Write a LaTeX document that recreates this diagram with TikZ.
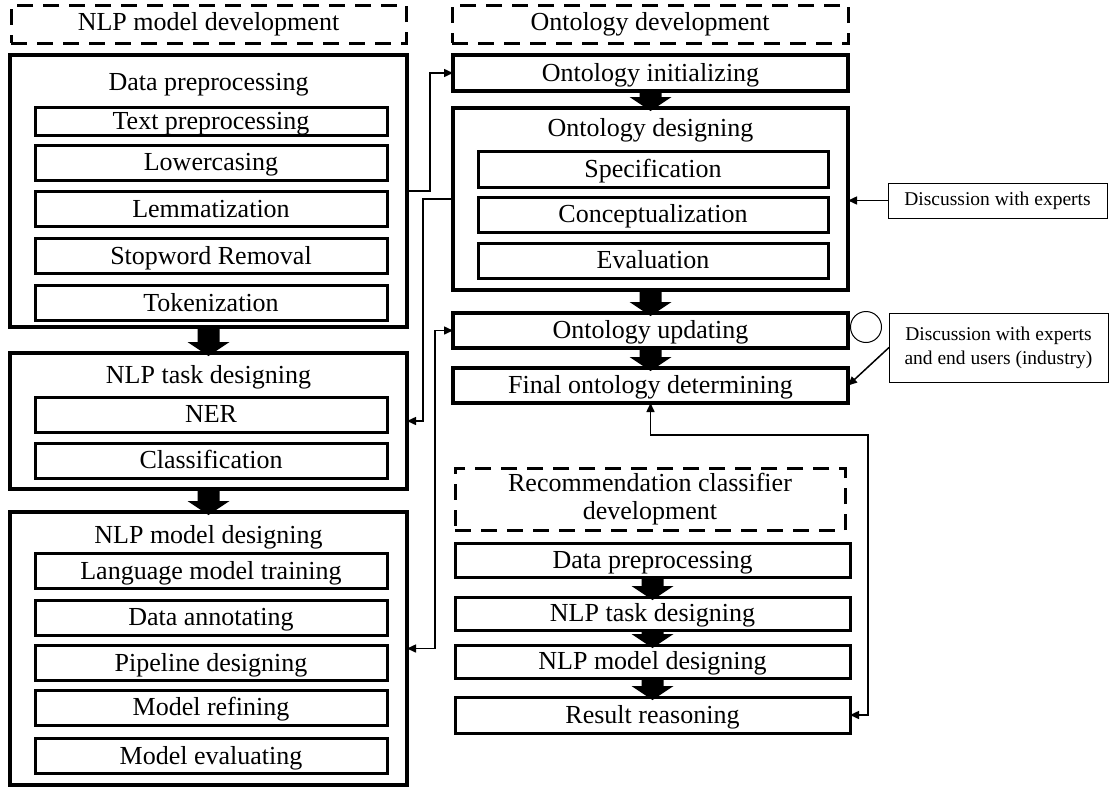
\documentclass[tikz,border=0pt]{standalone}
\usepackage{fontspec}
\setmainfont{Liberation Serif}
\usetikzlibrary{arrows.meta,calc}
\tikzset{
 base/.style={draw, inner sep=0pt, outer sep=0pt, font=\fontsize{26}{28}\selectfont, text height=20pt, text depth=4pt},
 outerbox/.style={base, line width=3.5pt},
 innerbox/.style={base, line width=3pt},
 hdr/.style={draw, inner sep=0pt, outer sep=0pt, font=\fontsize{26}{28}\selectfont, line width=3pt, dash pattern=on 16pt off 10pt, align=center},
 ttl/.style={inner sep=0pt, font=\fontsize{26}{28}\selectfont, text height=20pt, text depth=4pt},
 note/.style={draw, line width=1pt, inner sep=0pt, outer sep=0pt, align=center, font=\fontsize{19.5}{24}\selectfont},
 conn/.style={line width=1.5pt, -{Triangle[length=9pt,width=8pt]}},
 conntwo/.style={line width=1.5pt, {Triangle[length=9pt,width=8pt]}-{Triangle[length=9pt,width=8pt]}},
}
\newcommand\fatarr[2]{\fill let \p1=(#1.south), \p2=(#2.north) in (\x1-11pt,\y1) -- (\x1+11pt,\y1) -- (\x1+11pt,\y2+11pt) -- (\x1+21pt,\y2+11pt) -- (\x1,\y2-3pt) -- (\x1-21pt,\y2+11pt) -- (\x1-11pt,\y2+11pt) -- cycle;}
\begin{document}
\begin{tikzpicture}[x=1pt,y=-1pt]
\useasboundingbox (0,0) rectangle (1110,787);

% Left column
\node[hdr, minimum width=395pt, minimum height=38pt] (hL) at (208.5,24) {NLP model development};
\node[outerbox, minimum width=397pt, minimum height=272pt] (dpO) at (208.5,191) {};
\node[ttl] (dpT) at (208.5,82) {Data preprocessing};
\node[innerbox, minimum width=352pt, minimum height=28pt] (tp) at (211,121) {Text preprocessing};
\node[innerbox, minimum width=352pt, minimum height=35pt] (lc) at (211,162.5) {Lowercasing};
\node[innerbox, minimum width=352pt, minimum height=35pt] (lm) at (211,209) {Lemmatization};
\node[innerbox, minimum width=352pt, minimum height=35pt] (sw) at (211,256) {Stopword Removal};
\node[innerbox, minimum width=352pt, minimum height=35pt] (tk) at (211,303) {Tokenization};

\node[outerbox, minimum width=397pt, minimum height=136pt] (ntO) at (208.5,421) {};
\node[ttl] (ntT) at (208.5,375) {NLP task designing};
\node[innerbox, minimum width=352pt, minimum height=35pt] (ner) at (211,414.5) {NER};
\node[innerbox, minimum width=352pt, minimum height=35pt] (cls) at (211,460.5) {Classification};

\node[outerbox, minimum width=397pt, minimum height=273pt] (nmO) at (208.5,648.5) {};
\node[ttl] (nmT) at (208.5,535) {NLP model designing};
\node[innerbox, minimum width=352pt, minimum height=35pt] (lmt) at (211,571) {Language model training};
\node[innerbox, minimum width=352pt, minimum height=35pt] (da) at (211,617.5) {Data annotating};
\node[innerbox, minimum width=352pt, minimum height=35pt] (pd) at (211,663) {Pipeline designing};
\node[innerbox, minimum width=352pt, minimum height=35pt] (mr) at (211,707.5) {Model refining};
\node[innerbox, minimum width=352pt, minimum height=35pt] (me) at (211,756) {Model evaluating};

% Right column
\node[hdr, minimum width=396pt, minimum height=38pt] (hR) at (650,24) {Ontology development};
\node[outerbox, minimum width=395pt, minimum height=36pt] (oi) at (650.5,73) {Ontology initializing};
\node[outerbox, minimum width=395pt, minimum height=182pt] (odO) at (650.5,199) {};
\node[ttl] (odT) at (650.5,128) {Ontology designing};
\node[innerbox, minimum width=350pt, minimum height=36pt] (spc) at (653,169) {Specification};
\node[innerbox, minimum width=350pt, minimum height=35pt] (cpt) at (653,214.5) {Conceptualization};
\node[innerbox, minimum width=350pt, minimum height=35pt] (evl) at (653,260.5) {Evaluation};
\node[outerbox, minimum width=395pt, minimum height=35pt] (ou) at (650.5,330.5) {Ontology updating};
\node[outerbox, minimum width=395pt, minimum height=35pt] (of) at (650.5,385.5) {Final ontology determining};

\node[hdr, minimum width=390pt, minimum height=62pt] (hRec) at (650,499) {Recommendation classifier\\development};
\node[innerbox, minimum width=395pt, minimum height=34pt] (rdp) at (652.5,560) {Data preprocessing};
\node[innerbox, minimum width=395pt, minimum height=33pt] (rtk) at (652.5,613.5) {NLP task designing};
\node[innerbox, minimum width=395pt, minimum height=33pt] (rmd) at (652.5,661.5) {NLP model designing};
\node[innerbox, minimum width=395pt, minimum height=36pt] (rrs) at (652.5,715) {Result reasoning};

% Notes
\node[note, minimum width=219pt, minimum height=35pt] (d1) at (997.5,200.5) {Discussion with experts};
\node[note, minimum width=219pt, minimum height=69pt] (d2) at (998.5,347.5) {Discussion with experts\\and end users (industry)};
\node[draw, circle, line width=1pt, minimum size=31pt, inner sep=0pt] (circ) at (866,327) {};

% Fat arrows
\fatarr{dpO}{ntO}
\fatarr{ntO}{nmO}
\fatarr{oi}{odO}
\fatarr{odO}{ou}
\fatarr{ou}{of}
\fatarr{rdp}{rtk}
\fatarr{rtk}{rmd}
\fatarr{rmd}{rrs}

% Connectors
\draw[conn] (dpO.east) -- ++(23,0) |- (oi.west);
\draw[conn] (odO.west) -- ++(-30,0) |- (ntO.east);
\draw[conntwo] (ou.west) -- ++(-18,0) |- (nmO.east);
\coordinate (bend) at (868,435);
\draw[conntwo] (of.south) |- (bend) |- (rrs.east);
\draw[conn] (d1.west) -- (d1.west -| odO.east);
\draw[conn] (d2.west) -- (of.east);
\end{tikzpicture}
\end{document}
